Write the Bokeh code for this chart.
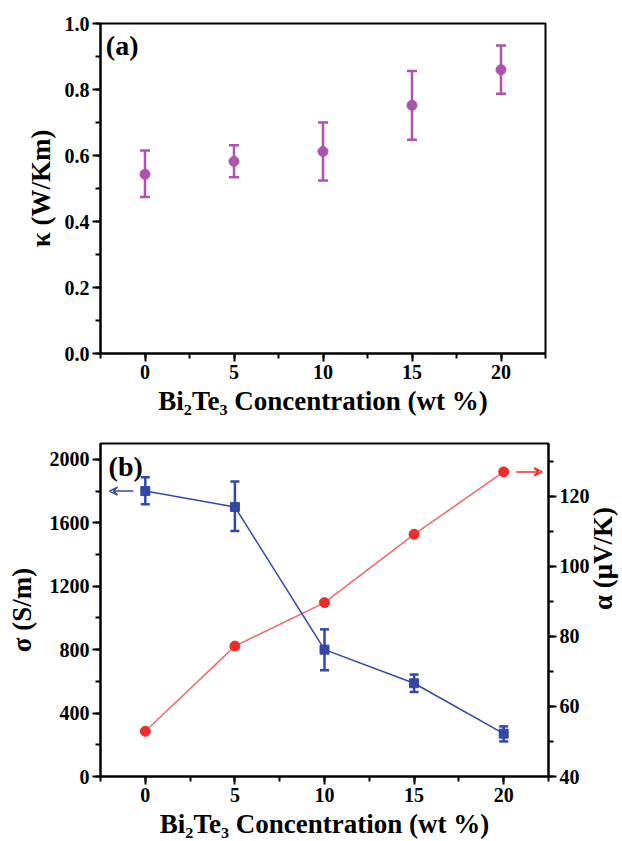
import math
from bokeh.plotting import figure
from bokeh.models import (ColumnDataSource, Whisker, TeeHead, Range1d, LinearAxis,
                          SingleIntervalTicker, PrintfTickFormatter, Label, Arrow, VeeHead)
from bokeh.layouts import column
from bokeh.embed import file_html
from bokeh.resources import INLINE

# ---- data ----
conc = [0, 5, 10, 15, 20]
kappa = [0.543, 0.582, 0.612, 0.752, 0.860]
kappa_hi = [0.615, 0.631, 0.700, 0.856, 0.933]
kappa_lo = [0.474, 0.534, 0.524, 0.648, 0.787]

sigma = [1800, 1700, 800, 588, 270]
sigma_hi = [1887, 1860, 928, 643, 316]
sigma_lo = [1717, 1548, 670, 533, 221]

alpha = [52.9, 77.2, 89.6, 109.1, 126.9]

x_label = "Bi\u2082Te\u2083 Concentration (wt %)"
FONT = "Liberation Serif"
PURPLE = "#ad52ad"
BLUE = "#3347a6"
RED = "#ee2b2b"
RED_LINE = "#f06868"


def style_axis(ax, ticker, fmt=None, label_standoff=12):
    ax.ticker = ticker
    if fmt is not None:
        ax.formatter = fmt
    ax.axis_line_width = 2
    ax.axis_line_color = "black"
    ax.major_tick_line_width = 2
    ax.minor_tick_line_width = 2
    ax.major_tick_in = 0
    ax.major_tick_out = 8
    ax.minor_tick_in = 0
    ax.minor_tick_out = 5
    ax.major_label_standoff = 3
    ax.major_label_text_font = FONT
    ax.major_label_text_font_style = "bold"
    ax.major_label_text_font_size = "20px"
    ax.major_label_text_color = "black"
    ax.axis_label_text_font = FONT
    ax.axis_label_text_font_style = "bold"
    ax.axis_label_text_font_size = "27px"
    ax.axis_label_text_color = "black"
    ax.axis_label_standoff = label_standoff


def base_fig(y_range, fw, fh, bl, br, bt, bb):
    p = figure(frame_width=fw, frame_height=fh, x_range=Range1d(-2.5, 22.5), y_range=y_range,
               output_backend="svg", toolbar_location=None,
               min_border_left=bl, min_border_right=br, min_border_top=bt, min_border_bottom=bb)
    p.xgrid.visible = False
    p.ygrid.visible = False
    p.outline_line_color = "black"
    p.outline_line_width = 2
    p.outline_line_alpha = 1.0
    p.background_fill_color = "white"
    p.border_fill_color = "white"
    return p


# ---- panel (a) ----
p1 = base_fig(Range1d(0, 1.0), 445, 330, 80, 76, 23, 67)
src1 = ColumnDataSource(dict(x=conc, y=kappa, hi=kappa_hi, lo=kappa_lo))
w1 = Whisker(source=src1, base="x", upper="hi", lower="lo", line_color=PURPLE, line_width=2.5,
             upper_head=TeeHead(size=10, line_color=PURPLE, line_width=2.5),
             lower_head=TeeHead(size=10, line_color=PURPLE, line_width=2.5))
p1.add_layout(w1)
p1.scatter("x", "y", source=src1, size=10, color=PURPLE, marker="circle")
style_axis(p1.xaxis[0], SingleIntervalTicker(interval=5, num_minor_ticks=2), label_standoff=4)
style_axis(p1.yaxis[0], SingleIntervalTicker(interval=0.2, num_minor_ticks=2),
           PrintfTickFormatter(format="%.1f"), label_standoff=6)
p1.xaxis[0].axis_label = x_label
p1.yaxis[0].axis_label = "\u03ba (W/Km)"
p1.add_layout(Label(x=-2.2, y=0.98, text="(a)", text_font=FONT, text_font_style="bold",
                    text_font_size="28px", text_baseline="top", text_color="black"))

# ---- panel (b) ----
p2 = base_fig(Range1d(0, 2100), 448, 333, 100, 66, 23, 55)
p2.extra_y_ranges = {"alpha": Range1d(40, 135)}
src_s = ColumnDataSource(dict(x=conc, y=sigma, hi=sigma_hi, lo=sigma_lo))
src_a = ColumnDataSource(dict(x=conc, y=alpha))
p2.line("x", "y", source=src_a, y_range_name="alpha", line_color=RED_LINE, line_width=1.5)
p2.line("x", "y", source=src_s, line_color=BLUE, line_width=1.5)
w2 = Whisker(source=src_s, base="x", upper="hi", lower="lo", line_color=BLUE, line_width=2.5,
             upper_head=TeeHead(size=9, line_color=BLUE, line_width=2.5),
             lower_head=TeeHead(size=9, line_color=BLUE, line_width=2.5))
p2.add_layout(w2)
p2.scatter("x", "y", source=src_s, size=9, color=BLUE, marker="square")
p2.scatter("x", "y", source=src_a, y_range_name="alpha", size=10, color=RED, marker="circle")

style_axis(p2.xaxis[0], SingleIntervalTicker(interval=5, num_minor_ticks=2), label_standoff=4)
style_axis(p2.yaxis[0], SingleIntervalTicker(interval=400, num_minor_ticks=2), label_standoff=10)
p2.xaxis[0].axis_label = x_label
p2.yaxis[0].axis_label = "\u03c3 (S/m)"
ax_r = LinearAxis(y_range_name="alpha")
style_axis(ax_r, SingleIntervalTicker(interval=20, num_minor_ticks=2), label_standoff=10)
ax_r.axis_label = "\u03b1 (\u03bcV/K)"
ax_r.axis_label_orientation = math.pi / 2
p2.add_layout(ax_r, "right")

p2.add_layout(Label(x=-2.05, y=2050, text="(b)", text_font=FONT, text_font_style="bold",
                    text_font_size="28px", text_baseline="top", text_color="black"))
# direction arrows
p2.add_layout(Arrow(x_start=-0.67, y_start=sigma[0], x_end=-2.0, y_end=sigma[0],
                    line_color=BLUE, line_width=1.5,
                    end=VeeHead(size=8, line_color=BLUE, line_width=1.5, fill_color=None)))
p2.add_layout(Arrow(x_start=20.7, y_start=alpha[-1], x_end=22.15, y_end=alpha[-1],
                    y_range_name="alpha", line_color=RED, line_width=1.5,
                    end=VeeHead(size=8, line_color=RED, line_width=1.5, fill_color=None)))

layout = column(p1, p2, spacing=0)
open("out.html", "w").write(file_html(layout, INLINE))
